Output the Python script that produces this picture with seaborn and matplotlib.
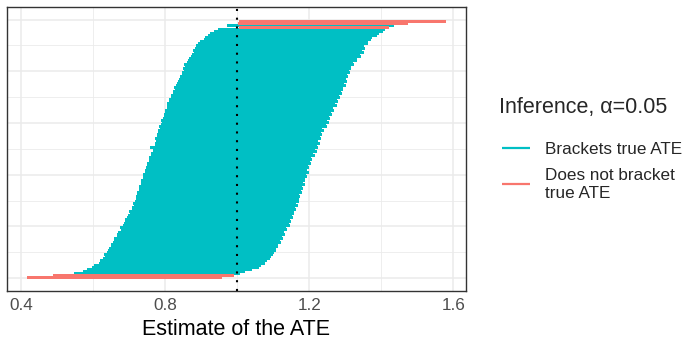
import numpy as np
import pandas as pd
import matplotlib
matplotlib.use("Agg")
import matplotlib.pyplot as plt
import seaborn as sns
from matplotlib.ticker import FixedLocator, MultipleLocator

# ---- data (intervals sorted by point estimate, bottom to top) ----
lower_bound = [
    0.418, 0.490, 0.548, 0.572, 0.584, 0.598, 0.603, 0.616, 0.621, 0.627,
    0.633, 0.630, 0.640, 0.642, 0.644, 0.651, 0.649, 0.657, 0.659, 0.658,
    0.667, 0.668, 0.670, 0.677, 0.676, 0.683, 0.685, 0.690, 0.689, 0.696,
    0.698, 0.703, 0.701, 0.708, 0.709, 0.713, 0.710, 0.716, 0.719, 0.720,
    0.723, 0.722, 0.727, 0.729, 0.727, 0.733, 0.734, 0.733, 0.739, 0.740,
    0.738, 0.745, 0.746, 0.747, 0.751, 0.750, 0.755, 0.756, 0.757, 0.762,
    0.761, 0.766, 0.767, 0.759, 0.772, 0.771, 0.774, 0.773, 0.778, 0.777,
    0.781, 0.782, 0.786, 0.784, 0.790, 0.791, 0.789, 0.795, 0.796, 0.797,
    0.801, 0.800, 0.805, 0.806, 0.807, 0.811, 0.812, 0.816, 0.817, 0.822,
    0.823, 0.827, 0.826, 0.831, 0.832, 0.837, 0.838, 0.841, 0.846, 0.847,
    0.852, 0.850, 0.856, 0.853, 0.861, 0.864, 0.867, 0.873, 0.875, 0.880,
    0.879, 0.884, 0.886, 0.891, 0.898, 0.907, 0.911, 0.919, 0.926, 0.937,
    0.948, 1.006, 0.973, 1.003, 1.004,
]
upper_bound = [
    0.955, 0.988, 1.004, 1.018, 1.038, 1.057, 1.064, 1.076, 1.079, 1.088,
    1.091, 1.098, 1.099, 1.106, 1.105, 1.112, 1.111, 1.118, 1.117, 1.124,
    1.123, 1.131, 1.127, 1.136, 1.133, 1.143, 1.140, 1.147, 1.145, 1.153,
    1.150, 1.156, 1.155, 1.160, 1.158, 1.165, 1.161, 1.169, 1.168, 1.173,
    1.170, 1.176, 1.174, 1.180, 1.178, 1.185, 1.181, 1.187, 1.185, 1.192,
    1.188, 1.196, 1.191, 1.198, 1.195, 1.201, 1.199, 1.206, 1.203, 1.212,
    1.208, 1.218, 1.214, 1.221, 1.219, 1.226, 1.222, 1.229, 1.226, 1.233,
    1.230, 1.238, 1.234, 1.248, 1.243, 1.251, 1.247, 1.256, 1.252, 1.261,
    1.258, 1.267, 1.264, 1.274, 1.270, 1.278, 1.274, 1.283, 1.280, 1.288,
    1.285, 1.292, 1.290, 1.298, 1.295, 1.302, 1.300, 1.306, 1.303, 1.310,
    1.307, 1.314, 1.313, 1.322, 1.319, 1.331, 1.329, 1.340, 1.338, 1.348,
    1.345, 1.352, 1.349, 1.360, 1.360, 1.370, 1.372, 1.385, 1.390, 1.401,
    1.408, 1.420, 1.432, 1.470, 1.577,
]
true_ate = 1.0
n_sims = 1000
status_levels = ["Brackets true ATE", "Does not bracket\ntrue ATE"]
palette_colors = ["#00BFC4", "#F8766D"]
x_major_ticks = [0.4, 0.8, 1.2, 1.6]
x_tick_labels = ["0.4", "0.8", "1.2", "1.6"]
x_label = "Estimate of the ATE"
legend_title = "Inference, \u03b1=0.05"

# ---- long-form table: two points (lower, upper) per interval ----
n_rows = len(lower_bound)
rank = (np.arange(n_rows) + 0.5) * n_sims / n_rows
status = [status_levels[0] if lo <= true_ate <= hi else status_levels[1]
          for lo, hi in zip(lower_bound, upper_bound)]
df = pd.DataFrame({
    "row": np.repeat(np.arange(n_rows), 2),
    "rank": np.repeat(rank, 2),
    "estimate": np.column_stack([lower_bound, upper_bound]).ravel(),
    "status": np.repeat(status, 2),
})

sns.set_theme(style="white")
plt.rcParams["font.family"] = ["Liberation Sans", "DejaVu Sans"]
plt.rcParams["lines.solid_capstyle"] = "butt"

W, H = 689, 343
fig = plt.figure(figsize=(W / 100, H / 100), dpi=100)
pl, pr, pt, pb = 6.7, 466.0, 6.7, 290.7
ax = fig.add_axes([pl / W, 1 - pb / H, (pr - pl) / W, (pb - pt) / H])

sns.lineplot(data=df, x="estimate", y="rank", hue="status", hue_order=status_levels,
             palette=palette_colors, units="row", estimator=None, sort=False,
             linewidth=2.1, antialiased=False, ax=ax, zorder=2)

ax.axvline(true_ate, color="black", ls=(0, (1, 3.2)), lw=1.5, zorder=3)

# scales
ax.set_xlim(0.361, 1.635)
ax.set_ylim(-49, 1050)
ax.xaxis.set_major_locator(FixedLocator(x_major_ticks))
ax.xaxis.set_minor_locator(FixedLocator(
    [(a + b) / 2 for a, b in zip(x_major_ticks[:-1], x_major_ticks[1:])]))
ax.set_xticklabels(x_tick_labels)
ax.yaxis.set_major_locator(MultipleLocator(200))
ax.yaxis.set_minor_locator(MultipleLocator(100))
ax.set_yticklabels([])
ax.tick_params(axis="y", which="both", length=0)
ax.tick_params(axis="x", which="major", length=2.6, width=0.9, color="#333333",
               pad=3, labelsize=12.3, labelcolor="#4D4D4D")
ax.tick_params(axis="x", which="minor", length=0)
ax.set_axisbelow(True)
ax.grid(which="major", color="#EBEBEB", lw=1.1)
ax.grid(which="minor", color="#EBEBEB", lw=0.6)
for s in ax.spines.values():
    s.set_color("#333333")
    s.set_linewidth(1.0)
    s.set_visible(True)
ax.set_ylabel("")
ax.set_xlabel(x_label, fontsize=15.5, color="black", labelpad=4.3)

# legend
fig.text(499 / W, 1 - 113.3 / H, legend_title, fontsize=15.5, va="baseline", ha="left")
sns.move_legend(ax, loc="upper left", bbox_to_anchor=(501.7 / W, 1 - 142 / H),
                bbox_transform=fig.transFigure, title=None, frameon=False,
                fontsize=12.3, handlelength=1.66, handletextpad=0.88,
                labelspacing=0.65, borderpad=0, borderaxespad=0)
leg = ax.get_legend()
for h in leg.legend_handles:
    h.set_linewidth(1.6)
    h.set_antialiased(True)
for t in leg.get_texts():
    t.set_linespacing(1.2)

fig.savefig("out.png", dpi=100)
